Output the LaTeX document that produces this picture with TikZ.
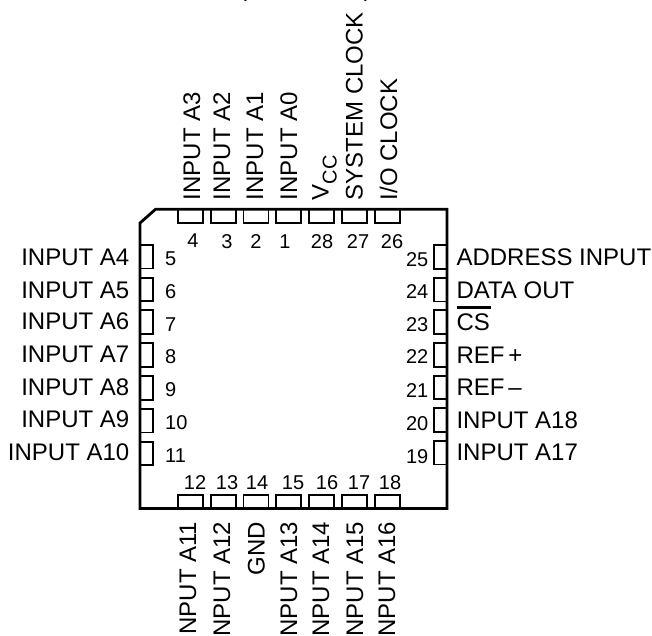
\documentclass[tikz,border=0pt]{standalone}
\usepackage{fontspec}
\setmainfont{Liberation Sans}
\tikzset{x=1pt,y=-1pt,
 body/.style={line width=2.8pt,line join=miter},
 pinbox/.style={draw,line width=1.9pt,inner sep=0pt,outer sep=0pt},
 pinh/.style={pinbox,minimum width=25pt,minimum height=13.5pt},
 pinv/.style={pinbox,minimum width=12.5pt,minimum height=23.7pt},
 lab/.style={inner sep=0pt,font=\fontsize{24}{26}\selectfont},
 num/.style={inner sep=0pt,font=\fontsize{20}{22}\selectfont}}
\begin{document}
\begin{tikzpicture}
\useasboundingbox (0,0) rectangle (652,635);
\node[lab,anchor=base] (title) at (305.5,-3.5) {(TOP VIEW)};
% top pins
\foreach \i/\x/\n/\nx/\ny/\bx/\t in {
 a/178/4/193/247/200/INPUT A3,b/210.8/3/227/248/230/INPUT A2,c/243.5/2/256/248/263/INPUT A1,d/276.4/1/285/248/297/INPUT A0,
 f/342.3/27/358/248/362.7/SYSTEM CLOCK,g/375/26/392/248/397/{I/O CLOCK}}{
 \node[pinh,anchor=north west] (pt\i) at (\x,209.5) {};
 \node[num,anchor=base] (nt\i) at (\nx,\ny) {\n};
 \node[lab,rotate=90,anchor=base west] (lt\i) at (\bx,200.5) {\t};
}
\node[pinh,anchor=north west] (pte) at (309,209.5) {};
\node[num,anchor=base] (nte) at (322,248) {28};
\node[lab,rotate=90,anchor=base west] (lte) at (328.5,200.5) {V\raisebox{-8pt}{\fontsize{20}{22}\selectfont CC}};
% bottom pins
\foreach \i/\x/\n/\nx/\bx/\t in {
 a/178/12/195/196/INPUT A11,b/210.8/13/227/230/INPUT A12,c/243.5/14/257/264.7/GND,d/276.4/15/293/297/INPUT A13,
 e/309/16/327/329/INPUT A14,f/342.3/17/359/363/INPUT A15,g/375/18/390/395/INPUT A16}{
 \node[pinh,anchor=south west] (pb\i) at (\x,508.5) {};
 \node[num,anchor=base] (nb\i) at (\nx,489) {\n};
 \node[lab,rotate=90,anchor=base east] (lb\i) at (\bx,521.5) {\t};
}
% left pins
\foreach \i/\y/\n/\nx/\ny/\by/\t in {
 a/244.8/5/165/265/265/INPUT A4,b/277.6/6/165/298/298/INPUT A5,c/310.4/7/165/331/329.5/INPUT A6,d/343.2/8/165/363/362/INPUT A7,
 e/376/9/165/396/395/INPUT A8,f/408.8/10/165/429/427.5/INPUT A9,g/441.6/11/165/462/460/INPUT A10}{
 \node[pinv,anchor=north west] (pl\i) at (140.5,\y) {};
 \node[num,anchor=base west] (nl\i) at (\nx,\ny) {\n};
 \node[lab,anchor=base east] (ll\i) at (129.5,\by) {\t};
}
% right pins
\foreach \i/\y/\n/\ny/\by/\t in {
 a/245.2/25/266/265/ADDRESS INPUT,b/277.8/24/298/298/DATA OUT,c/310.4/23/331/330.5/{\rlap{\rule[22pt]{34pt}{3pt}}CS},d/343/22/363/363/REF\,+,
 e/375.6/21/397/395/REF\,–,f/408.2/20/430/428/INPUT A18,g/440.8/19/463/460/INPUT A17}{
 \node[pinv,anchor=north east] (pr\i) at (446.5,\y) {};
 \node[num,anchor=base east] (nr\i) at (428.5,\ny) {\n};
 \node[lab,anchor=base west] (lr\i) at (456.3,\by) {\t};
}
\draw[body] (140,223) -- (155.5,209.3) -- (447,209.3) -- (447,508.5) -- (140,508.5) -- cycle;
\end{tikzpicture}
\end{document}
